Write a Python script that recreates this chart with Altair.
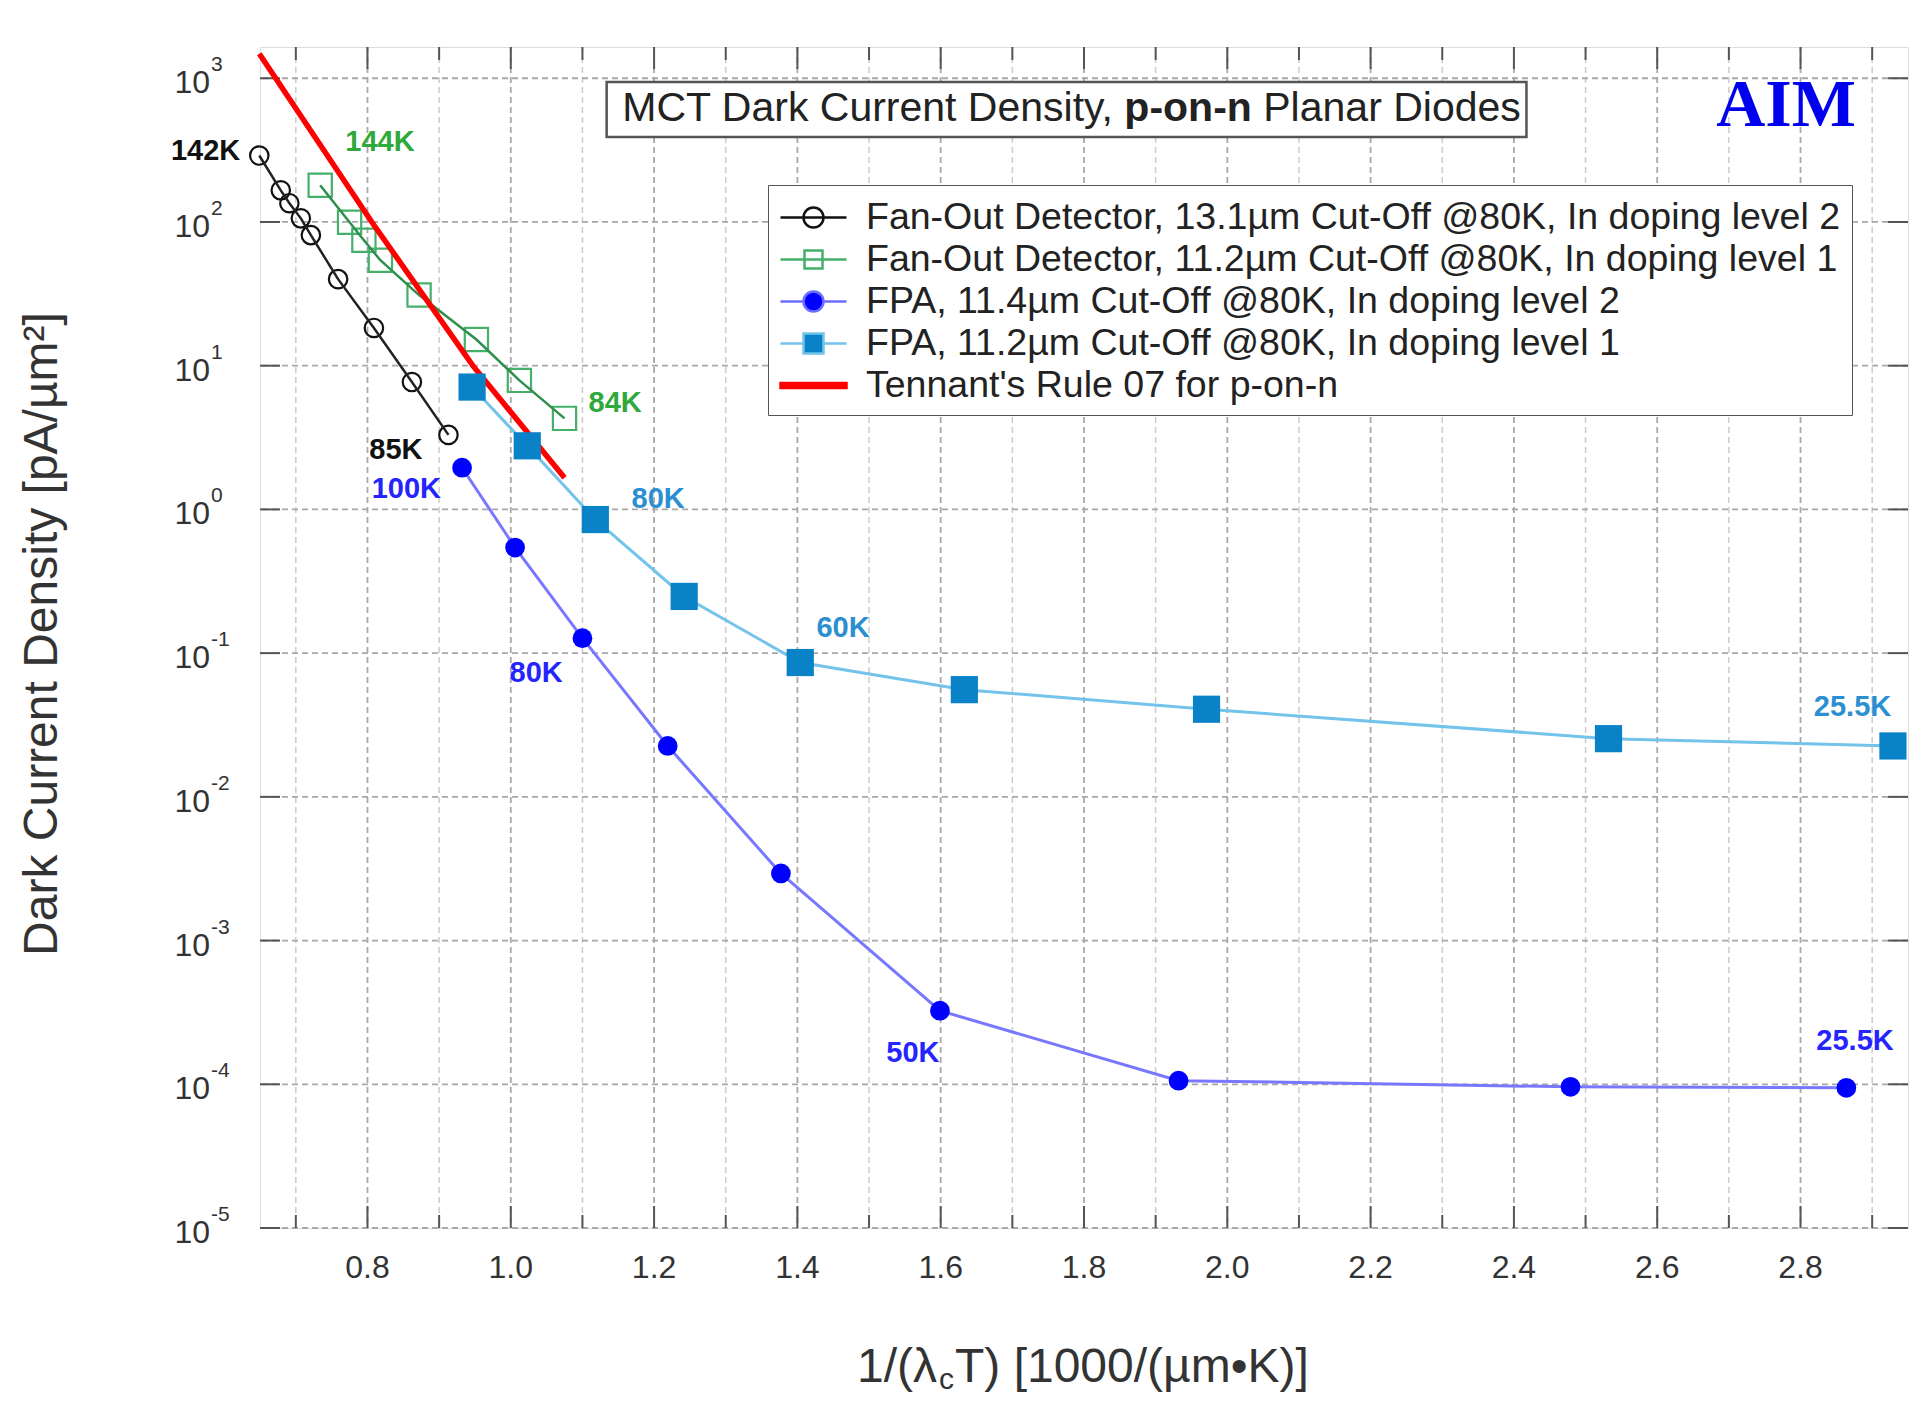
import altair as alt
import pandas as pd

# ---------------- data ----------------
fan13_x = [0.649, 0.679, 0.691, 0.707, 0.721, 0.759, 0.809, 0.862, 0.913]
fan13_y = [290, 166, 135, 106, 81, 40, 18.3, 7.7, 3.3]

fan11_x = [0.734, 0.775, 0.795, 0.818, 0.872, 0.952, 1.012, 1.075]
fan11_y = [180, 99.5, 74.6, 54.2, 31, 15.2, 7.9, 4.3]

fpa114_x = [0.932, 1.006, 1.100, 1.219, 1.377, 1.599, 1.932, 2.479, 2.864]
fpa114_y = [1.95, 0.543, 0.127, 0.0226, 0.00293, 3.25e-4, 1.06e-4, 9.6e-5, 9.45e-5]

fpa112_x = [0.946, 1.023, 1.118, 1.242, 1.404, 1.633, 1.971, 2.532, 2.929]
fpa112_y = [7.1, 2.77, 0.85, 0.248, 0.086, 0.0557, 0.0407, 0.0254, 0.0226]

rule07_x = [0.649, 0.806, 0.947, 1.075]
rule07_y = [1480, 100, 10, 1.66]

series_names = [
    "Fan-Out Detector, 13.1µm Cut-Off @80K, In doping level 2",
    "Fan-Out Detector, 11.2µm Cut-Off @80K, In doping level 1",
    "FPA, 11.4µm Cut-Off @80K, In doping level 2",
    "FPA, 11.2µm Cut-Off @80K, In doping level 1",
    "Tennant's Rule 07 for p-on-n",
]

annot_text = ["142K", "144K", "84K", "85K", "100K", "80K", "80K", "60K", "50K", "25.5K", "25.5K"]
annot_x = [0.574, 0.8175, 1.1457, 0.8397, 0.8543, 1.2056, 1.0354, 1.4637, 1.5612, 2.8726, 2.8761]
annot_y = [314, 361, 5.5, 2.61, 1.39, 1.19, 0.0733, 0.1486, 1.64e-4, 0.0424, 1.99e-4]
annot_series = ["fan13", "fan11", "fan11", "fan13", "fpa114", "fpa112", "fpa114",
                "fpa112", "fpa114", "fpa112", "fpa114"]

x_tick_labels = [0.8, 1.0, 1.2, 1.4, 1.6, 1.8, 2.0, 2.2, 2.4, 2.6, 2.8]
x_minor = [0.7, 0.9, 1.1, 1.3, 1.5, 1.7, 1.9, 2.1, 2.3, 2.5, 2.7, 2.9]
y_exponents = [-5, -4, -3, -2, -1, 0, 1, 2, 3]

# ---------------- layout / style ----------------
W, H = 1648, 1181
FONT = "Liberation Sans"
xs = alt.Scale(domain=[0.65, 2.95], nice=False, zero=False)
ys = alt.Scale(type="log", domain=[1e-5, 1650], nice=False)


def X(field="x"):
    return alt.X(f"{field}:Q", scale=xs, axis=None)


def Y(field="y"):
    return alt.Y(f"{field}:Q", scale=ys, axis=None)


layers = []

# grid lines
df_major = pd.DataFrame({"x": x_tick_labels, "lab": [f"{v:.1f}" for v in x_tick_labels]})
df_minor = pd.DataFrame({"x": x_minor})
df_dec = pd.DataFrame({"y": [10.0 ** e for e in y_exponents], "e": [str(e) for e in y_exponents]})

layers.append(alt.Chart(df_minor).mark_rule(color="#cccccc", strokeWidth=1.5, strokeDash=[6, 4])
              .encode(x=X()))
layers.append(alt.Chart(df_major).mark_rule(color="#a8a8a8", strokeWidth=1.8, strokeDash=[6, 4])
              .encode(x=X()))
layers.append(alt.Chart(df_dec).mark_rule(color="#a8a8a8", strokeWidth=1.8, strokeDash=[6, 4])
              .encode(y=Y()))

# inward ticks on all four sides
for df_t, L in ((df_major, 22), (df_minor, 13)):
    layers.append(alt.Chart(df_t).mark_rule(color="#555", strokeWidth=2)
                  .encode(x=X(), y=alt.value(0), y2=alt.value(L)))
    layers.append(alt.Chart(df_t).mark_rule(color="#555", strokeWidth=2)
                  .encode(x=X(), y=alt.value(H), y2=alt.value(H - L)))
layers.append(alt.Chart(df_dec).mark_rule(color="#555", strokeWidth=2)
              .encode(y=Y(), x=alt.value(0), x2=alt.value(20)))
layers.append(alt.Chart(df_dec).mark_rule(color="#555", strokeWidth=2)
              .encode(y=Y(), x=alt.value(W), x2=alt.value(W - 20)))

# x tick labels
layers.append(alt.Chart(df_major).mark_text(align="center", baseline="middle", fontSize=32,
                                            font=FONT, color="#333")
              .encode(x=X(), y=alt.value(H + 40), text="lab:N"))

# y tick labels: "10" + superscript exponent
layers.append(alt.Chart(df_dec).mark_text(align="right", baseline="middle", fontSize=32,
                                          font=FONT, color="#333", dy=5)
              .encode(y=Y(), x=alt.value(-50), text=alt.value("10")))
layers.append(alt.Chart(df_dec).mark_text(align="left", baseline="middle", fontSize=21,
                                          font=FONT, color="#333", dy=-13)
              .encode(y=Y(), x=alt.value(-49), text="e:N"))


def series(xv, yv):
    return alt.Chart(pd.DataFrame({"x": xv, "y": yv}))


# Fan-out 13.1 um (black open circles)
b = series(fan13_x, fan13_y)
layers.append(b.mark_point(shape="circle", filled=False, size=340, color="#111", strokeWidth=2.2,
                           opacity=1).encode(x=X(), y=Y()))
layers.append(b.mark_line(color="#222", strokeWidth=2.5).encode(x=X(), y=Y()))

# Fan-out 11.2 um (green open squares)
g = series(fan11_x, fan11_y)
layers.append(g.mark_point(shape="square", filled=False, size=540, color="#44b06a", strokeWidth=2.2,
                           opacity=1).encode(x=X(), y=Y()))
layers.append(g.mark_line(color="#2f8f4c", strokeWidth=2.5).encode(x=X(), y=Y()))

# Tennant's Rule 07
r = series(rule07_x, rule07_y)
layers.append(r.mark_line(color="#ff0000", strokeWidth=5.5).encode(x=X(), y=Y()))

# FPA 11.4 um (blue filled circles)
bl = series(fpa114_x, fpa114_y)
layers.append(bl.mark_line(color="#7878ff", strokeWidth=3).encode(x=X(), y=Y()))
layers.append(bl.mark_point(shape="circle", filled=True, size=390, color="#0000ff",
                            opacity=1).encode(x=X(), y=Y()))

# FPA 11.2 um (light-blue filled squares)
lb = series(fpa112_x, fpa112_y)
layers.append(lb.mark_line(color="#74c3ea", strokeWidth=3).encode(x=X(), y=Y()))
layers.append(lb.mark_point(shape="square", filled=True, size=740, color="#0a82c8",
                            opacity=1).encode(x=X(), y=Y()))

# temperature annotations
df_ann = pd.DataFrame({"x": annot_x, "y": annot_y, "t": annot_text, "s": annot_series})
layers.append(alt.Chart(df_ann).mark_text(fontSize=29, fontWeight="bold", font=FONT,
                                          baseline="middle", align="center")
              .encode(x=X(), y=Y(), text="t:N",
                      color=alt.Color("s:N", legend=None,
                                      scale=alt.Scale(domain=["fan13", "fan11", "fpa114", "fpa112"],
                                                      range=["#111111", "#2fa83c", "#2424ff", "#2b8fd1"]))))

# title box
df_box = pd.DataFrame({"x": [1.1338], "x2": [2.4175], "y": [390], "y2": [942]})
layers.append(alt.Chart(df_box).mark_rect(fill="white", stroke="#555", strokeWidth=2.5)
              .encode(x=X(), x2="x2:Q", y=Y(), y2="y2:Q"))
df_t1 = pd.DataFrame({"x": [1.8404], "y": [612], "t": ["MCT Dark Current Density,"]})
df_t2 = pd.DataFrame({"x": [1.8563], "y": [612], "t": ["p-on-n"]})
df_t3 = pd.DataFrame({"x": [2.0502], "y": [612], "t": ["Planar Diodes"]})
layers.append(alt.Chart(df_t1).mark_text(align="right", baseline="middle", fontSize=41, font=FONT,
                                         color="#222").encode(x=X(), y=Y(), text="t:N"))
layers.append(alt.Chart(df_t2).mark_text(align="left", baseline="middle", fontSize=41, font=FONT,
                                         fontWeight="bold", color="#222").encode(x=X(), y=Y(), text="t:N"))
layers.append(alt.Chart(df_t3).mark_text(align="left", baseline="middle", fontSize=41, font=FONT,
                                         color="#222").encode(x=X(), y=Y(), text="t:N"))

# AIM logo text
df_aim = pd.DataFrame({"x": [2.8774], "y": [637], "t": ["AIM"]})
layers.append(alt.Chart(df_aim).mark_text(align="right", baseline="middle", fontSize=68,
                                          font="Liberation Serif", fontWeight="bold", color="#0000ee")
              .encode(x=X(), y=Y(), text="t:N"))

# axis titles
one = pd.DataFrame({"a": [0]})
layers.append(alt.Chart(one).mark_text(angle=270, align="center", baseline="middle", fontSize=48,
                                       font=FONT, color="#333")
              .encode(x=alt.value(-217), y=alt.value(587),
                      text=alt.value("Dark Current Density [pA/µm²]")))
layers.append(alt.Chart(one).mark_text(align="left", baseline="middle", fontSize=48, font=FONT, color="#333")
              .encode(x=alt.value(597), y=alt.value(1321), text=alt.value("1/(λ")))
layers.append(alt.Chart(one).mark_text(align="left", baseline="middle", fontSize=30, font=FONT, color="#333",
                                       dy=12)
              .encode(x=alt.value(679), y=alt.value(1321), text=alt.value("c")))
layers.append(alt.Chart(one).mark_text(align="left", baseline="middle", fontSize=48, font=FONT, color="#333")
              .encode(x=alt.value(695), y=alt.value(1321), text=alt.value("T) [1000/(µm•K)]")))

# legend (native Vega-Lite legend driven by an empty layer with explicit scales)
# symbol box is 40 px; the horizontal line of each glyph reaches out to 66 px
circle_open = "M-1.65,0L1.65,0M0.5,0A0.5,0.5,0,1,1,-0.5,0A0.5,0.5,0,1,1,0.5,0Z"
square_open = "M-1.65,0L1.65,0M-0.45,-0.45L0.45,-0.45L0.45,0.45L-0.45,0.45Z"
circle_fill = "M-1.65,0L-0.5,0M0.5,0L1.65,0M0.5,0A0.5,0.5,0,1,1,-0.5,0A0.5,0.5,0,1,1,0.5,0Z"
square_fill = "M-1.65,0L-0.5,0M0.5,0L1.65,0M-0.5,-0.5L0.5,-0.5L0.5,0.5L-0.5,0.5Z"
bar = "M-1.65,-0.13L1.65,-0.13L1.65,0.13L-1.65,0.13Z"

leg = alt.Legend(orient="none", legendX=508, legendY=138, title=None, labelFontSize=37.5,
                 labelFont=FONT, labelColor="#222", symbolSize=1600, symbolStrokeWidth=2.5,
                 symbolOffset=13, padding=11, rowPadding=2, labelOffset=31, strokeColor="#555",
                 fillColor="white", labelLimit=2000)
df_leg = pd.DataFrame({"series": series_names})
layers.append(alt.Chart(df_leg).mark_point(size=1600, opacity=1).encode(
    stroke=alt.Stroke("series:N", legend=leg,
                      scale=alt.Scale(domain=series_names,
                                      range=["#111111", "#44b06a", "#6f6fff", "#74c3ea", "#ff0000"])),
    fill=alt.Fill("series:N", legend=leg,
                  scale=alt.Scale(domain=series_names,
                                  range=["transparent", "transparent", "#0000ff", "#0a82c8", "#ff0000"])),
    shape=alt.Shape("series:N", legend=leg,
                    scale=alt.Scale(domain=series_names,
                                    range=[circle_open, square_open, circle_fill, square_fill, bar])),
).transform_filter("false"))

chart = (
    alt.layer(*layers)
    .properties(width=W, height=H,
                padding={"left": 252, "top": 39, "right": 4, "bottom": 168},
                autosize=alt.AutoSizeParams(type="none"))
    .configure_view(stroke="#555", strokeWidth=3)
    .configure_legend(strokeWidth=2.5)
    .configure(font=FONT)
)

chart.save("out.html", embed_options={"renderer": "svg", "actions": False})
